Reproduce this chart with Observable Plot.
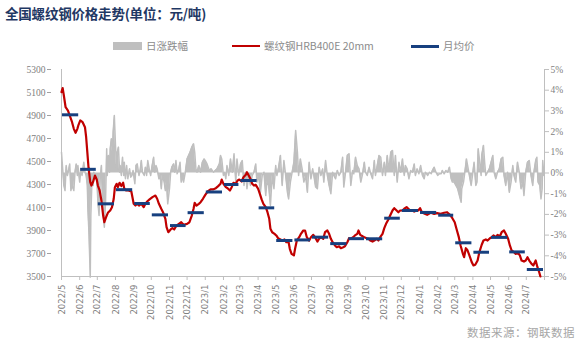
<!DOCTYPE html>
<html><head><meta charset="utf-8">
<script src="https://cdn.jsdelivr.net/npm/d3@7"></script>
<script src="https://cdn.jsdelivr.net/npm/@observablehq/plot@0.6"></script>
<style>
body{margin:0;background:#fff;}
#wrap{position:relative;width:586px;height:359px;overflow:hidden;font-family:"Noto Sans CJK SC","Noto Sans",sans-serif;background:#fff;}
#chart{position:absolute;left:0;top:0;}
.title{position:absolute;left:5px;top:3px;font-size:13.5px;font-weight:bold;color:#1f3864;white-space:nowrap;letter-spacing:-0.2px;}
.lt{position:absolute;top:38px;font-size:10.5px;line-height:16px;color:#8c8c8c;white-space:nowrap;}
.sw{position:absolute;}
.src{position:absolute;right:11px;top:324px;font-size:11.5px;color:#a6a6a6;white-space:nowrap;letter-spacing:0.5px;}
</style></head>
<body>
<div id="wrap">
<div id="chart"></div>
<div class="title">全国螺纹钢价格走势(单位：元/吨)</div>
<div class="sw" style="left:113px;top:42px;width:29px;height:8px;background:#bfbfbf"></div>
<div class="lt" style="left:146px">日涨跌幅</div>
<div class="sw" style="left:232px;top:45px;width:28px;height:2px;background:#c00000"></div>
<div class="lt" style="left:264px">螺纹钢HRB400E 20mm</div>
<div class="sw" style="left:411px;top:44.5px;width:28px;height:3px;background:#17407f"></div>
<div class="lt" style="left:443px">月均价</div>
<div class="src">数据来源：钢联数据</div>
</div>
<script>
// ---- data ----
const priceDates = ["2022-05-01","2022-05-03","2022-05-05","2022-05-08","2022-05-12","2022-05-16","2022-05-19","2022-05-22","2022-05-25","2022-05-28","2022-05-30","2022-06-02","2022-06-06","2022-06-10","2022-06-12","2022-06-14","2022-06-16","2022-06-19","2022-06-21","2022-06-24","2022-06-27","2022-06-30","2022-07-02","2022-07-05","2022-07-08","2022-07-11","2022-07-13","2022-07-16","2022-07-19","2022-07-23","2022-07-26","2022-07-29","2022-07-31","2022-08-03","2022-08-05","2022-08-08","2022-08-11","2022-08-14","2022-08-16","2022-08-19","2022-08-23","2022-08-28","2022-09-01","2022-09-04","2022-09-07","2022-09-10","2022-09-14","2022-09-18","2022-09-21","2022-09-24","2022-09-28","2022-10-03","2022-10-08","2022-10-11","2022-10-14","2022-10-18","2022-10-21","2022-10-25","2022-10-27","2022-10-30","2022-11-03","2022-11-06","2022-11-09","2022-11-13","2022-11-17","2022-11-21","2022-11-25","2022-12-01","2022-12-05","2022-12-09","2022-12-12","2022-12-14","2022-12-17","2022-12-21","2022-12-24","2022-12-28","2023-01-01","2023-01-05","2023-01-10","2023-01-14","2023-01-19","2023-01-23","2023-01-27","2023-01-29","2023-02-01","2023-02-05","2023-02-08","2023-02-12","2023-02-15","2023-02-18","2023-02-22","2023-02-25","2023-02-28","2023-03-04","2023-03-07","2023-03-11","2023-03-13","2023-03-16","2023-03-19","2023-03-22","2023-03-25","2023-03-28","2023-04-01","2023-04-04","2023-04-07","2023-04-10","2023-04-14","2023-04-17","2023-04-20","2023-04-22","2023-04-25","2023-04-29","2023-05-02","2023-05-05","2023-05-09","2023-05-12","2023-05-16","2023-05-19","2023-05-23","2023-05-25","2023-05-28","2023-06-01","2023-06-03","2023-06-06","2023-06-10","2023-06-13","2023-06-17","2023-06-20","2023-06-23","2023-06-27","2023-06-30","2023-07-04","2023-07-07","2023-07-11","2023-07-14","2023-07-17","2023-07-21","2023-07-24","2023-07-28","2023-07-31","2023-08-03","2023-08-06","2023-08-10","2023-08-13","2023-08-17","2023-08-20","2023-08-24","2023-08-27","2023-08-31","2023-09-03","2023-09-06","2023-09-10","2023-09-13","2023-09-17","2023-09-19","2023-09-22","2023-09-26","2023-09-29","2023-10-03","2023-10-06","2023-10-09","2023-10-13","2023-10-16","2023-10-20","2023-10-23","2023-10-26","2023-10-30","2023-11-02","2023-11-05","2023-11-09","2023-11-12","2023-11-16","2023-11-19","2023-11-23","2023-11-26","2023-11-29","2023-12-03","2023-12-06","2023-12-10","2023-12-13","2023-12-16","2023-12-20","2023-12-23","2023-12-27","2023-12-30","2024-01-02","2024-01-05","2024-01-10","2024-01-14","2024-01-20","2024-01-26","2024-01-31","2024-02-06","2024-02-12","2024-02-17","2024-02-22","2024-02-26","2024-03-01","2024-03-04","2024-03-08","2024-03-11","2024-03-15","2024-03-17","2024-03-20","2024-03-23","2024-03-26","2024-03-30","2024-04-02","2024-04-05","2024-04-09","2024-04-12","2024-04-16","2024-04-19","2024-04-23","2024-04-26","2024-04-30","2024-05-03","2024-05-06","2024-05-10","2024-05-13","2024-05-17","2024-05-20","2024-05-24","2024-05-27","2024-05-31","2024-06-03","2024-06-06","2024-06-10","2024-06-13","2024-06-17","2024-06-20","2024-06-23","2024-06-27","2024-06-30","2024-07-03","2024-07-06","2024-07-10","2024-07-13","2024-07-17","2024-07-20","2024-07-23","2024-07-25"];
const priceValues = [5103,5138,5074,4972,4943,4885,4842,4784,4750,4784,4819,4857,4842,4798,4711,4581,4450,4320,4291,4326,4378,4343,4291,4248,4161,4030,3972,4016,4054,4074,4103,4176,4277,4306,4277,4315,4286,4315,4263,4248,4248,4239,4132,4117,4132,4117,4132,4103,4132,4152,4170,4190,4204,4176,4132,4089,4059,4002,3929,3885,3909,3920,3909,3943,3958,3972,3950,3958,3972,4030,4089,4141,4117,4132,4146,4176,4210,4239,4257,4257,4268,4286,4306,4343,4306,4277,4268,4248,4277,4315,4306,4335,4343,4326,4363,4384,4407,4378,4349,4306,4291,4297,4263,4219,4170,4132,4103,4059,4002,3915,3885,3871,3857,3833,3822,3813,3822,3798,3798,3741,3697,3683,3741,3813,3842,3871,3900,3900,3842,3813,3842,3862,3842,3804,3828,3842,3828,3885,3900,3871,3828,3798,3770,3755,3763,3746,3755,3763,3798,3833,3828,3842,3857,3871,3900,3862,3850,3842,3833,3828,3813,3804,3813,3828,3813,3842,3871,3920,3958,3996,4030,4074,4094,4074,4059,4074,4074,4089,4103,4089,4074,4074,4065,4074,4074,4094,4059,4045,4036,4054,4045,4051,4045,4054,4059,4036,4007,3972,3915,3842,3770,3697,3668,3746,3726,3683,3625,3596,3602,3639,3711,3776,3813,3822,3813,3833,3842,3857,3842,3862,3850,3885,3900,3871,3828,3770,3726,3711,3697,3705,3683,3639,3630,3639,3668,3639,3610,3596,3639,3581,3537,3500];

const changeDates = ["2022-05-01","2022-05-05","2022-05-07","2022-05-09","2022-05-11","2022-05-13","2022-05-15","2022-05-17","2022-05-19","2022-05-22","2022-05-24","2022-05-26","2022-05-28","2022-05-29","2022-06-01","2022-06-03","2022-06-05","2022-06-08","2022-06-10","2022-06-12","2022-06-14","2022-06-15","2022-06-17","2022-06-19","2022-06-20","2022-06-22","2022-06-24","2022-06-25","2022-06-28","2022-06-30","2022-07-02","2022-07-04","2022-07-06","2022-07-08","2022-07-10","2022-07-11","2022-07-13","2022-07-15","2022-07-17","2022-07-18","2022-07-20","2022-07-22","2022-07-23","2022-07-25","2022-07-27","2022-07-28","2022-07-30","2022-08-01","2022-08-03","2022-08-04","2022-08-06","2022-08-08","2022-08-09","2022-08-11","2022-08-13","2022-08-15","2022-08-16","2022-08-18","2022-08-20","2022-08-22","2022-08-25","2022-08-27","2022-08-29","2022-08-31","2022-09-03","2022-09-05","2022-09-07","2022-09-10","2022-09-12","2022-09-14","2022-09-16","2022-09-19","2022-09-21","2022-09-23","2022-09-25","2022-09-28","2022-09-30","2022-10-02","2022-10-05","2022-10-07","2022-10-09","2022-10-11","2022-10-14","2022-10-16","2022-10-18","2022-10-20","2022-10-23","2022-10-25","2022-10-27","2022-10-29","2022-11-01","2022-11-03","2022-11-05","2022-11-08","2022-11-10","2022-11-12","2022-11-14","2022-11-17","2022-11-19","2022-11-21","2022-11-23","2022-11-25","2022-11-28","2022-12-01","2022-12-06","2022-12-09","2022-12-12","2022-12-14","2022-12-16","2022-12-18","2022-12-21","2022-12-24","2022-12-27","2022-12-30","2023-01-01","2023-01-04","2023-01-08","2023-01-11","2023-01-15","2023-01-18","2023-01-21","2023-01-25","2023-01-27","2023-01-29","2023-02-01","2023-02-03","2023-02-05","2023-02-07","2023-02-10","2023-02-13","2023-02-16","2023-02-19","2023-02-22","2023-02-24","2023-02-27","2023-03-02","2023-03-05","2023-03-08","2023-03-11","2023-03-13","2023-03-16","2023-03-19","2023-03-22","2023-03-25","2023-03-28","2023-03-30","2023-04-02","2023-04-05","2023-04-08","2023-04-11","2023-04-14","2023-04-16","2023-04-19","2023-04-22","2023-04-25","2023-04-28","2023-05-01","2023-05-03","2023-05-06","2023-05-09","2023-05-12","2023-05-15","2023-05-18","2023-05-21","2023-05-23","2023-05-26","2023-05-29","2023-06-01","2023-06-04","2023-06-07","2023-06-09","2023-06-12","2023-06-15","2023-06-18","2023-06-21","2023-06-24","2023-06-27","2023-06-30","2023-07-03","2023-07-05","2023-07-08","2023-07-11","2023-07-14","2023-07-17","2023-07-20","2023-07-22","2023-07-25","2023-07-28","2023-07-31","2023-08-03","2023-08-06","2023-08-08","2023-08-11","2023-08-14","2023-08-17","2023-08-20","2023-08-23","2023-08-25","2023-08-28","2023-08-31","2023-09-03","2023-09-06","2023-09-09","2023-09-11","2023-09-14","2023-09-17","2023-09-20","2023-09-23","2023-09-26","2023-09-29","2023-10-01","2023-10-04","2023-10-07","2023-10-10","2023-10-13","2023-10-16","2023-10-18","2023-10-21","2023-10-24","2023-10-27","2023-10-30","2023-11-02","2023-11-04","2023-11-07","2023-11-10","2023-11-13","2023-11-16","2023-11-19","2023-11-21","2023-11-24","2023-11-27","2023-11-30","2023-12-03","2023-12-06","2023-12-08","2023-12-11","2023-12-14","2023-12-17","2023-12-20","2023-12-23","2023-12-25","2023-12-28","2023-12-31","2024-01-03","2024-01-06","2024-01-09","2024-01-11","2024-01-15","2024-01-18","2024-01-21","2024-01-23","2024-01-26","2024-01-29","2024-02-01","2024-02-04","2024-02-07","2024-02-09","2024-02-12","2024-02-15","2024-02-18","2024-02-21","2024-02-24","2024-02-26","2024-02-29","2024-03-03","2024-03-06","2024-03-09","2024-03-12","2024-03-13","2024-03-16","2024-03-19","2024-03-21","2024-03-23","2024-03-26","2024-03-29","2024-04-01","2024-04-03","2024-04-06","2024-04-08","2024-04-10","2024-04-12","2024-04-15","2024-04-16","2024-04-19","2024-04-21","2024-04-23","2024-04-26","2024-04-29","2024-05-02","2024-05-05","2024-05-07","2024-05-10","2024-05-13","2024-05-16","2024-05-19","2024-05-22","2024-05-24","2024-05-27","2024-05-30","2024-06-02","2024-06-05","2024-06-08","2024-06-10","2024-06-13","2024-06-16","2024-06-19","2024-06-22","2024-06-25","2024-06-27","2024-06-30","2024-07-03","2024-07-06","2024-07-09","2024-07-12","2024-07-14","2024-07-17","2024-07-19","2024-07-21","2024-07-24","2024-07-26","2024-07-28","2024-07-29","2024-07-31"];
const changeValues = [1.0,-0.6,-0.85,0.36,-0.12,0.12,0.44,-0.85,-0.6,-0.85,0.04,0.44,-0.12,0.36,-0.44,0.2,-0.12,0.52,0.04,-0.12,-0.6,-1.73,-3.03,-5.03,-2.05,-0.28,-0.6,0.04,-0.28,-0.12,-1.41,-2.05,-0.28,0.36,-1.41,-1.89,-2.62,-1.41,1.17,-0.12,0.85,0.04,1.17,1.65,1.0,1.97,2.78,1.33,0.2,1.0,1.25,0.04,0.36,-0.12,0.76,-0.12,0.52,-0.28,0.36,-0.28,0.2,-0.2,-0.12,0.12,-0.52,0.36,0.44,-0.12,0.12,0.6,0.04,-0.12,0.28,-0.12,0.6,0.12,-0.12,0.28,0.76,0.04,0.36,0.2,-0.28,-0.04,-0.76,-0.12,-0.44,-0.85,-0.44,-1.49,-0.76,0.04,0.28,0.44,0.04,0.6,-0.04,0.2,0.52,-0.44,-0.12,-0.44,0.04,0.68,1.0,1.25,1.41,1.0,0.2,0.04,0.36,0.04,0.52,0.68,0.6,0.44,0.12,0.2,0.04,0.12,0.2,0.44,0.85,0.68,-0.12,0.04,-0.28,0.36,-0.12,0.68,0.04,0.93,-0.44,0.68,-0.12,0.44,0.6,-0.6,0.04,-0.76,-0.12,-0.6,-0.12,0.04,0.44,-0.44,-0.12,-0.93,-0.12,0.04,-1.09,-0.44,-0.6,-1.57,-0.12,-0.76,0.36,-0.12,0.28,0.85,-0.6,0.6,-0.12,-0.93,-1.25,-0.44,0.04,0.52,2.05,1.0,-0.12,0.68,0.2,-0.44,-0.12,-0.93,0.52,-0.28,0.2,-0.12,-0.68,-0.76,0.28,-0.12,0.2,-0.44,0.6,-0.12,-0.6,-1.0,0.04,-0.12,-0.28,0.12,-0.12,0.04,0.76,-0.68,0.04,0.85,0.93,-0.6,0.12,-0.04,0.76,0.36,0.2,-0.44,-0.04,0.52,0.04,-0.12,0.28,-0.04,-0.28,0.6,-0.12,0.36,0.85,0.76,-0.12,0.52,-0.12,0.85,0.12,1.0,1.09,-0.12,0.85,-0.44,0.52,0.04,0.68,-0.12,0.36,0.2,-0.28,0.12,0.04,0.44,-0.12,0.2,-0.04,0.36,-0.12,-0.28,0.04,-0.12,0.04,-0.04,0.12,0.28,0.04,-0.12,-0.04,-0.04,0.12,-0.04,0.12,0.04,0.28,-0.28,-0.44,-0.44,-0.6,-0.76,-1.09,-1.41,-0.76,-0.44,0.2,0.68,0.36,-0.12,-0.6,0.04,0.52,-0.6,-0.44,1.17,0.68,-0.12,0.85,1.33,0.52,-0.12,0.04,0.2,0.52,0.85,0.04,-0.28,0.04,0.2,0.68,0.76,-0.12,-0.6,0.04,-0.93,-0.44,0.36,-0.12,-0.44,0.52,0.04,-0.76,-0.44,-1.09,0.04,0.52,0.6,-0.12,-0.6,0.04,0.6,0.76,-0.44,-0.6,-1.25,-0.76,0.6,-0.12];

const monthStarts = ["2022-05-01","2022-06-01","2022-07-01","2022-08-01","2022-09-01","2022-10-01","2022-11-01","2022-12-01","2023-01-01","2023-02-01","2023-03-01","2023-04-01","2023-05-01","2023-06-01","2023-07-01","2023-08-01","2023-09-01","2023-10-01","2023-11-01","2023-12-01","2024-01-01","2024-02-01","2024-03-01","2024-04-01","2024-05-01","2024-06-01","2024-07-01"];
const monthAvg = [4906,4432,4132,4255,4135,4036,3943,4055,4235,4300,4335,4097,3813,3818,3842,3786,3829,3828,4007,4074,4057,4033,3793,3711,3840,3714,3561];

const axisEnd = "2024-08-01";
const leftTicks = [3500,3700,3900,4100,4300,4500,4700,4900,5100,5300];
const rightTickPct = [-5,-4,-3,-2,-1,0,1,2,3,4,5];

// ---- build ----
const D = s => new Date(s + "T00:00:00Z");
const price = priceDates.map((d, i) => ({date: D(d), v: priceValues[i]}));
const change = changeDates.map((d, i) => ({date: D(d), pct: changeValues[i]}));
const monthly = monthStarts.map((d, i) => ({
  start: D(d),
  end: D(i + 1 < monthStarts.length ? monthStarts[i + 1] : axisEnd),
  v: monthAvg[i]
}));
// secondary axis: -5%..5% aligned with 3500..5300
const pMin = 3500, pMax = 5300, zero = (pMin + pMax) / 2, perPct = (pMax - pMin) / 10;
const pctToY = p => zero + p * perPct;
const xTicks = [...monthStarts, axisEnd].map(D);
const axisGray = "#bfbfbf", textGray = "#808080";
const domainX = [D(monthStarts[0]), D(axisEnd)];

const chart = Plot.plot({
  width: 586, height: 359,
  marginLeft: 61, marginRight: 42, marginTop: 69, marginBottom: 83,
  style: {fontFamily: "'Liberation Serif', serif", fontSize: "9.5px", background: "transparent"},
  x: {type: "utc", domain: domainX},
  y: {domain: [pMin, pMax]},
  marks: [
    Plot.areaY(change, {x: "date", y1: zero, y2: d => pctToY(d.pct), fill: "#bfbfbf", curve: "linear"}),
    Plot.lineY(change, {x: "date", y: d => pctToY(d.pct), stroke: "#bfbfbf", strokeWidth: 1.5}),
    Plot.ruleY([pMin], {stroke: axisGray}),
    Plot.ruleX(domainX, {stroke: axisGray}),
    Plot.axisX({ticks: xTicks, tickFormat: d => d >= D(axisEnd) ? "" : `${d.getUTCFullYear()}/${d.getUTCMonth() + 1}`,
      tickRotate: -90, tickSize: 4, tickPadding: 4, stroke: axisGray, fill: textGray,
      fontFamily: "'Liberation Sans Narrow','DejaVu Sans Condensed',sans-serif", fontSize: 9.5, label: null}),
    Plot.axisY({anchor: "left", ticks: leftTicks, tickSize: 4, tickPadding: 2, dx: -10, stroke: "#a0a0a0", fill: textGray, label: null, tickFormat: d => String(d)}),
    Plot.axisY({anchor: "right", ticks: rightTickPct.map(pctToY), tickSize: 4, tickPadding: 2, stroke: axisGray, fill: textGray, label: null,
      tickFormat: v => `${Math.round((v - zero) / perPct)}%`}),
    Plot.lineY(price, {x: "date", y: "v", stroke: "#c00000", strokeWidth: 2.2, strokeLinejoin: "round"}),
    Plot.ruleY(monthly, {x1: "start", x2: "end", y: "v", stroke: "#17407f", strokeWidth: 3, insetLeft: 1, insetRight: 1})
  ]
});
document.getElementById("chart").appendChild(chart);
</script>
</body></html>
